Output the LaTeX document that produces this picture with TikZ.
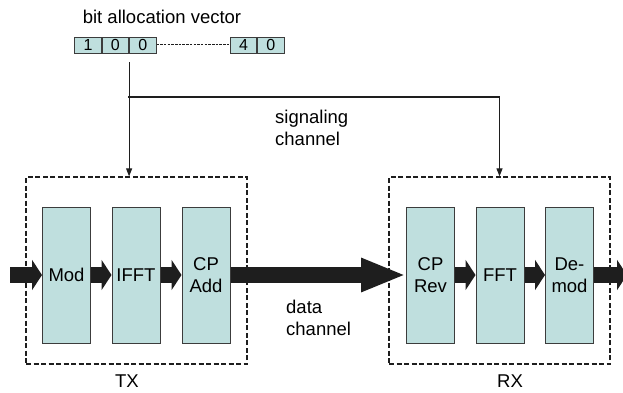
\documentclass[tikz,border=0pt]{standalone}
\usepackage{fontspec}
\setmainfont{Liberation Sans}
\usetikzlibrary{arrows.meta}
\definecolor{blockfill}{RGB}{191,223,222}
\definecolor{ink}{RGB}{30,30,30}
\definecolor{edge}{RGB}{60,60,60}
\begin{document}
\begin{tikzpicture}[x=1pt,y=-1pt,
  font=\fontsize{18.5}{22}\selectfont,
  cell/.style={draw=edge,fill=blockfill,line width=0.9pt,minimum width=26.5pt,minimum height=16pt,inner sep=0pt,font=\fontsize{16}{16}\selectfont},
  block/.style={draw=edge,fill=blockfill,line width=1pt,minimum width=48pt,minimum height=136pt,inner sep=0pt,align=center},
  group/.style={draw=ink,line width=1.3pt,dash pattern=on 5pt off 2.5pt,minimum width=221pt,minimum height=187pt,inner sep=0pt},
  fat/.style={ink,line width=16pt,-{Triangle[length=10pt,width=30pt]}},
  big/.style={ink,line width=16pt,-{Triangle[length=45pt,width=31pt]}},
  sig/.style={ink,line width=1.1pt,-{Triangle[length=8pt,width=6pt]}},
  lbl/.style={align=left,inner sep=0pt,font=\fontsize{18.5}{22}\selectfont}]
\useasboundingbox (0,0) rectangle (623,393);
% bit allocation vector
\node (title) at (162,17) {bit allocation vector};
\node[cell] (c1) at (88,45) {1};
\node[cell,anchor=west] (c2) at (c1.east) {0};
\node[cell,anchor=west] (c3) at (c2.east) {0};
\node[cell] (c4) at (243.5,45) {4};
\node[cell,anchor=west] (c5) at (c4.east) {0};
\draw[ink,line width=1pt,dash pattern=on 2.5pt off 1.2pt] (c3.east) -- (c4.west);
% groups
\node[group] (tx) at (136.5,270.5) {};
\node[group] (rx) at (499.5,270.5) {};
\node (txl) at (127,381) {TX};
\node (rxl) at (510,381) {RX};
% blocks
\node[block] (mod) at (66.5,275) {Mod};
\node[block] (ifft) at (136,275) {IFFT};
\node[block] (cpadd) at (206,275) {CP\\Add};
\node[block] (cprev) at (430.5,275) {CP\\Rev};
\node[block] (fft) at (500,275) {FFT};
\node[block] (demod) at (569.5,275) {De-\\mod};
% data arrows
\coordinate (in) at (10,275);
\coordinate (out) at (627,275);
\draw[fat] (in) -- (mod.west);
\draw[fat] (mod.east) -- (ifft.west);
\draw[fat] (ifft.east) -- (cpadd.west);
\draw[big] (cpadd.east) -- (cprev.west);
\draw[fat] (cprev.east) -- (fft.west);
\draw[fat] (fft.east) -- (demod.west);
\draw[fat] (demod.east) -- (out);
% signaling
\coordinate (br) at (128,97);
\draw[sig,shorten <=9pt] (c2.south east) -- (c2.south east |- tx.north);
\draw[sig] (br) -| (rx.north);
% labels
\node[lbl,anchor=base west] (sigl) at (275,145) {signaling\\channel};
\node[lbl,anchor=base west] (datal) at (286,335) {data\\channel};
\end{tikzpicture}
\end{document}
